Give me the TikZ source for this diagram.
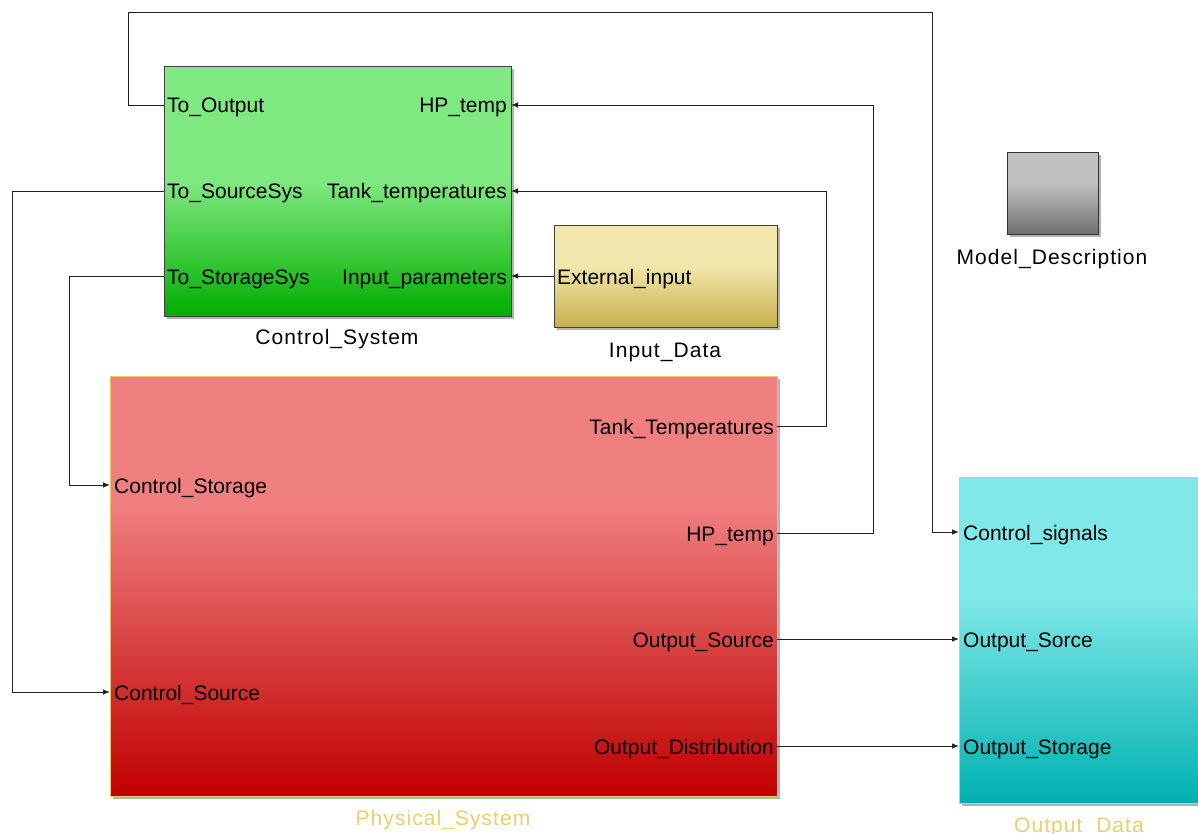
\documentclass[tikz,border=0pt]{standalone}
\usepackage{fontspec}
\setmainfont{Liberation Sans}
\newfontfamily\lblfont{Liberation Sans}[LetterSpace=5]
\usetikzlibrary{arrows.meta,shadows}
\definecolor{cstop}{HTML}{80E880}
\definecolor{csbot}{HTML}{00AE00}
\definecolor{idtop}{HTML}{F2E6AA}
\definecolor{idbot}{HTML}{C6B04C}
\definecolor{pstop}{HTML}{F08080}
\definecolor{psbot}{HTML}{C00000}
\definecolor{odtop}{HTML}{80E8E8}
\definecolor{odbot}{HTML}{00B0B0}
\definecolor{mdtop}{HTML}{C0C0C0}
\definecolor{mdbot}{HTML}{6E6E6E}
\definecolor{goldb}{HTML}{E8C860}
\definecolor{goldt}{HTML}{E8D070}
\definecolor{wirec}{HTML}{202020}
\pgfdeclareverticalshading{csshade}{100bp}{color(0bp)=(csbot); color(25bp)=(csbot); color(52bp)=(cstop); color(100bp)=(cstop)}
\pgfdeclareverticalshading{idshade}{100bp}{color(0bp)=(idbot); color(25bp)=(idbot); color(55bp)=(idtop); color(100bp)=(idtop)}
\pgfdeclareverticalshading{psshade}{100bp}{color(0bp)=(psbot); color(25bp)=(psbot); color(60bp)=(pstop); color(100bp)=(pstop)}
\pgfdeclareverticalshading{odshade}{100bp}{color(0bp)=(odbot); color(25bp)=(odbot); color(57bp)=(odtop); color(100bp)=(odtop)}
\pgfdeclareverticalshading{mdshade}{100bp}{color(0bp)=(mdbot); color(25bp)=(mdbot); color(57bp)=(mdtop); color(100bp)=(mdtop)}
\tikzset{
  block/.style={rectangle, line width=1pt, inner sep=0pt, outer sep=0pt, anchor=north west,
    drop shadow={shadow xshift=2.5pt, shadow yshift=-2.5pt, fill=black, opacity=0.3}},
  portl/.style={anchor=west, inner sep=0pt, font=\fontsize{21}{25}\selectfont, text height=18pt, text depth=2pt},
  portr/.style={anchor=east, inner sep=0pt, font=\fontsize{21}{25}\selectfont, text height=18pt, text depth=2pt},
  blabel/.style={inner sep=0pt, font=\lblfont\fontsize{21}{25}\selectfont, text height=18pt, text depth=2pt},
  wire/.style={draw=wirec, line width=0.9pt, -{Latex[length=7pt,width=5.5pt]}}
}
\begin{document}
\begin{tikzpicture}[x=1pt,y=-1pt]
\clip (0,0) rectangle (1198,834);
\fill[white] (0,0) rectangle (1198,834);
% blocks
\node[block, draw=black!75, shading=csshade, minimum width=347pt, minimum height=249pt] (cs) at (164,67) {};
\node[block, draw=black!75, shading=idshade, minimum width=223pt, minimum height=101pt] (id) at (554,226) {};
\node[block, draw=goldb, shading=psshade, minimum width=667pt, minimum height=420pt] (ps) at (110,376) {};
\node[block, draw=goldb, shading=odshade, minimum width=260pt, minimum height=326pt] (od) at (959,477) {};
\node[block, draw=black!80, shading=mdshade, minimum width=91pt, minimum height=82pt] (md) at (1007,153) {};
% block labels
\node[blabel] (csl) at (337,336) {Control\_System};
\node[blabel] (idl) at (665,349) {Input\_Data};
\node[blabel, text=goldt] (psl) at (443,817) {Physical\_System};
\node[blabel, text=goldt] (odl) at (1079,824) {Output\_Data};
\node[blabel] (mdl) at (1052,256) {Model\_Description};
% ports: Control_System
\node[portl] (csa) at (167,105) {To\_Output};
\node[portl] (csb) at (167,191) {To\_SourceSys};
\node[portl] (csc) at (167,276) {To\_StorageSys};
\node[portr] (csd) at (507,105) {HP\_temp};
\node[portr] (cse) at (507,191) {Tank\_temperatures};
\node[portr] (csf) at (507,276) {Input\_parameters};
\coordinate (csA) at (164,105);
\coordinate (csB) at (164,191);
\coordinate (csC) at (164,276);
\coordinate (csD) at (511,105);
\coordinate (csE) at (511,191);
\coordinate (csF) at (511,276);
% ports: Input_Data
\node[portl] (ida) at (557,276) {External\_input};
\coordinate (idA) at (554,276);
% ports: Physical_System
\node[portr] (psa) at (774,426) {Tank\_Temperatures};
\node[portr] (psb) at (774,533) {HP\_temp};
\node[portr] (psc) at (774,639) {Output\_Source};
\node[portr] (psd) at (774,746) {Output\_Distribution};
\node[portl] (pse) at (114,485) {Control\_Storage};
\node[portl] (psf) at (114,692) {Control\_Source};
\coordinate (psA) at (777,426);
\coordinate (psB) at (777,533);
\coordinate (psC) at (777,639);
\coordinate (psD) at (777,746);
\coordinate (psE) at (110,485);
\coordinate (psF) at (110,692);
% ports: Output_Data
\node[portl] (oda) at (963,532) {Control\_signals};
\node[portl] (odb) at (963,639) {Output\_Sorce};
\node[portl] (odc) at (963,746) {Output\_Storage};
\coordinate (odA) at (959,532);
\coordinate (odB) at (959,639);
\coordinate (odC) at (959,746);
% connectors
\draw[wire] (csA) -| (128,12) -| (932,532) -- (odA);
\draw[wire] (csB) -| (12,692) -- (psF);
\draw[wire] (csC) -| (69,485) -- (psE);
\draw[wire] (idA) -- (csF);
\draw[wire] (psA) -| (826,191) -- (csE);
\draw[wire] (psB) -| (873,105) -- (csD);
\draw[wire] (psC) -- (odB);
\draw[wire] (psD) -- (odC);
\end{tikzpicture}
\end{document}
